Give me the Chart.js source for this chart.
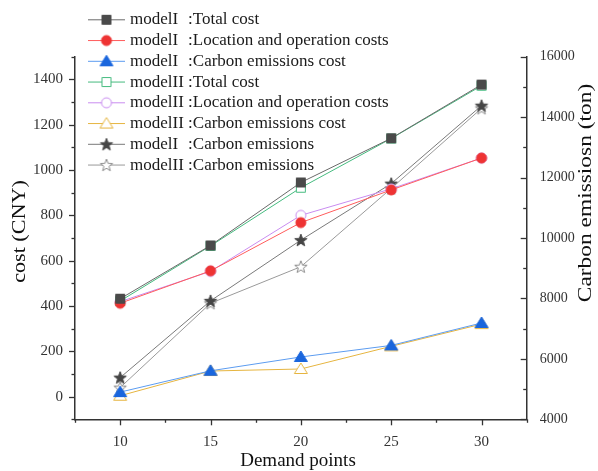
<!DOCTYPE html>
<html>
<head>
<meta charset="utf-8">
<script src="https://cdn.jsdelivr.net/npm/chart.js@4.4.0/dist/chart.umd.min.js"></script>
<style>
html, body { margin: 0; padding: 0; background: #fff; }
canvas { display: block; }
</style>
</head>
<body>
<canvas id="chart" width="598" height="471"></canvas>
<script>
// Данные
const demandPoints = [10, 15, 20, 25, 30];
const totalCostI = [432, 667, 945, 1140, 1377];
const locationCostI = [412, 555, 768, 912, 1053];
const carbonCostI = [20, 114, 175, 226, 325];
const totalCostII = [422, 665, 922, 1139, 1372];
const locationCostII = [419, 553, 800, 917, 1053];
const carbonCostII = [4, 113, 122, 222, 320];
const emissionsI = [5380, 7920, 9930, 11800, 14380];
const emissionsII = [5050, 7840, 9050, 11640, 14290];

const seriesLabels = [
    'modelI  \u200A:Total cost',
    'modelI  \u200A:Location and operation costs',
    'modelI  \u200A:Carbon emissions cost',
    'modelII :Total cost',
    'modelII :Location and operation costs',
    'modelII :Carbon emissions cost',
    'modelI  \u200A:Carbon emissions',
    'modelII :Carbon emissions'
];

const xTitle = 'Demand points';
const yTitle = 'cost (CNY)';
const y1Title = 'Carbon emissiosn (ton)';

const SERIF = '"Liberation Serif", "Times New Roman", serif';

// Маркер рисуем на маленьком canvas и отдаём как pointStyle
function makeMarker(shape, fill, stroke) {
    const size = 16;
    const c = document.createElement('canvas');
    c.width = size;
    c.height = size;
    const ctx = c.getContext('2d');
    const m = size / 2;
    ctx.fillStyle = fill;
    ctx.strokeStyle = stroke;
    ctx.lineWidth = 1;
    ctx.beginPath();
    if (shape === 'square') {
        ctx.rect(m - 4.5, m - 4.5, 9, 9);
    } else if (shape === 'circle') {
        ctx.arc(m, m, 5, 0, Math.PI * 2);
    } else if (shape === 'triangle') {
        ctx.moveTo(m, m - 6);
        ctx.lineTo(m + 6.5, m + 4.5);
        ctx.lineTo(m - 6.5, m + 4.5);
        ctx.closePath();
    } else if (shape === 'star') {
        for (let i = 0; i < 10; i++) {
            const r = i % 2 ? 2.7 : 6.5;
            const a = -Math.PI / 2 + i * Math.PI / 5;
            const px = m + r * Math.cos(a);
            const py = m + 0.5 + r * Math.sin(a);
            if (i === 0) ctx.moveTo(px, py); else ctx.lineTo(px, py);
        }
        ctx.closePath();
    }
    ctx.fill();
    ctx.stroke();
    return c;
}

function series(label, data, lineColor, marker, axis) {
    return {
        label: label,
        data: data.map((v, i) => ({ x: demandPoints[i], y: v })),
        borderColor: lineColor,
        backgroundColor: lineColor,
        borderWidth: 1,
        pointStyle: marker,
        pointRadius: 6,
        pointHoverRadius: 6,
        yAxisID: axis,
        tension: 0
    };
}

const datasets = [
    series(seriesLabels[0], totalCostI, '#6a6a6a', makeMarker('square', '#4a4a4a', '#4a4a4a'), 'y'),
    series(seriesLabels[1], locationCostI, '#ff5c5c', makeMarker('circle', '#ee3333', '#ee3333'), 'y'),
    series(seriesLabels[2], carbonCostI, '#5c9cf0', makeMarker('triangle', '#1a66dd', '#1a66dd'), 'y'),
    series(seriesLabels[3], totalCostII, '#45bb7f', makeMarker('square', '#ffffff', '#45bb7f'), 'y'),
    series(seriesLabels[4], locationCostII, '#c98cf0', makeMarker('circle', '#ffffff', '#c98cf0'), 'y'),
    series(seriesLabels[5], carbonCostII, '#e6b540', makeMarker('triangle', '#ffffff', '#e6b540'), 'y'),
    series(seriesLabels[6], emissionsI, '#7a7a7a', makeMarker('star', '#454545', '#454545'), 'y1'),
    series(seriesLabels[7], emissionsII, '#9a9a9a', makeMarker('star', '#ffffff', '#8a8a8a'), 'y1')
];

// Легенда поверх графика, как на картинке
const legendPlugin = {
    id: 'insideLegend',
    afterDraw(chart) {
        const ctx = chart.ctx;
        ctx.save();
        ctx.font = '17px ' + SERIF;
        ctx.textBaseline = 'middle';
        ctx.textAlign = 'left';
        chart.data.datasets.forEach((ds, i) => {
            const y = 19.8 + i * 20.75;
            ctx.strokeStyle = ds.borderColor;
            ctx.lineWidth = 1;
            ctx.beginPath();
            ctx.moveTo(88, y);
            ctx.lineTo(125, y);
            ctx.stroke();
            const img = ds.pointStyle;
            ctx.drawImage(img, 106.5 - img.width / 2, y - img.height / 2);
            ctx.fillStyle = '#1a1a1a';
            ctx.fillText(ds.label, 130, y);
        });
        ctx.restore();
    }
};

// Деления осей: большие у подписанных значений, маленькие между ними
const tickPlugin = {
    id: 'axisTicks',
    afterDraw(chart) {
        const ctx = chart.ctx;
        ctx.save();
        ctx.strokeStyle = '#333';
        ctx.lineWidth = 1.3;
        Object.values(chart.scales).forEach(scale => {
            scale.ticks.forEach(t => {
                const len = t.label !== '' ? 6 : 3.5;
                const p = Math.round(scale.getPixelForValue(t.value)) + 0.5;
                ctx.beginPath();
                if (scale.id === 'x') {
                    ctx.moveTo(p, scale.top);
                    ctx.lineTo(p, scale.top + len);
                } else if (scale.id === 'y') {
                    ctx.moveTo(scale.right - len, p);
                    ctx.lineTo(scale.right, p);
                } else {
                    ctx.moveTo(scale.left - len, p);
                    ctx.lineTo(scale.left, p);
                }
                ctx.stroke();
            });
        });
        ctx.restore();
    }
};

// Подписи осей (вертикальные растянуты, как в оригинале)
const titlePlugin = {
    id: 'axisTitles',
    afterDraw(chart) {
        const ctx = chart.ctx;
        ctx.save();
        ctx.fillStyle = '#111';
        ctx.textAlign = 'center';
        ctx.textBaseline = 'middle';
        ctx.font = '19px ' + SERIF;
        ctx.fillText(xTitle, 298, 461);

        ctx.font = '18px ' + SERIF;
        ctx.save();
        ctx.translate(20.5, 231.5);
        ctx.rotate(-Math.PI / 2);
        ctx.scale(1.23, 1);
        ctx.fillText(yTitle, 0, 0);
        ctx.restore();

        ctx.save();
        ctx.translate(586, 193);
        ctx.rotate(-Math.PI / 2);
        ctx.scale(1.3, 1);
        ctx.fillText(y1Title, 0, 0);
        ctx.restore();
        ctx.restore();
    }
};

const tickFont = { family: SERIF, size: 15 };
const noGrid = { display: false, drawTicks: false };

new Chart(document.getElementById('chart'), {
    type: 'line',
    data: { datasets: datasets },
    plugins: [tickPlugin, titlePlugin, legendPlugin],
    options: {
        responsive: false,
        animation: false,
        devicePixelRatio: 1,
        layout: { padding: { top: 56.7, left: 0, right: 0, bottom: 0 } },
        plugins: {
            legend: { display: false },
            tooltip: { enabled: false }
        },
        scales: {
            x: {
                type: 'linear',
                min: 7.5,
                max: 32.5,
                grid: noGrid,
                border: { display: true, color: '#333', width: 1.5 },
                ticks: {
                    stepSize: 2.5,
                    maxTicksLimit: 20,
                    autoSkip: false,
                    maxRotation: 0,
                    padding: 14,
                    color: '#333',
                    font: tickFont,
                    callback: v => (v % 5 === 0 ? String(v) : '')
                },
                afterFit: s => { s.height = 51.7; }
            },
            y: {
                position: 'left',
                min: -100,
                max: 1500,
                grid: noGrid,
                border: { display: true, color: '#333', width: 1.5 },
                ticks: {
                    stepSize: 100,
                    maxTicksLimit: 20,
                    padding: 12,
                    color: '#333',
                    font: tickFont,
                    callback: v => (v % 200 === 0 && v >= 0 && v <= 1400 ? String(v) : '')
                },
                afterFit: s => { s.width = 75; }
            },
            y1: {
                position: 'right',
                min: 4000,
                max: 16000,
                grid: noGrid,
                border: { display: true, color: '#333', width: 1.5 },
                ticks: {
                    stepSize: 1000,
                    maxTicksLimit: 20,
                    padding: 13,
                    color: '#333',
                    font: { family: SERIF, size: 14 },
                    callback: v => (v % 2000 === 0 ? String(v) : '')
                },
                afterFit: s => { s.width = 71.3; }
            }
        }
    }
});
</script>
</body>
</html>
